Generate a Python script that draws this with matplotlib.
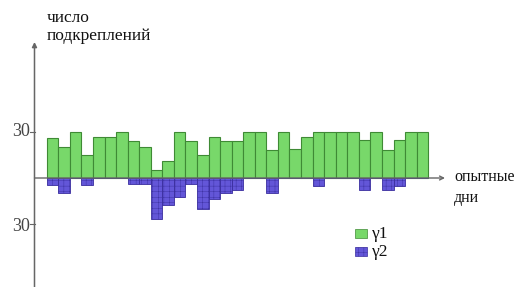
import numpy as np
import matplotlib
matplotlib.use("Agg")
import matplotlib.pyplot as plt

gamma1 = [26, 20, 30, 15, 27, 27, 30, 24, 20, 5.5, 11, 30, 24, 15, 27, 24,
          24, 30, 30, 18.5, 30, 19, 27, 30, 30, 30, 30, 24.5, 30, 18.5, 25, 30, 30]
gamma2 = [4.5, 9.5, 0, 4.5, 0, 0, 0, 4, 4, 27, 17.5, 12.5, 4, 20.5, 14, 10,
          8, 0, 0, 9.5, 0, 0, 0, 5, 0, 0, 0, 8, 0, 8, 5, 0, 0]
ytick_vals = [30, -30]
ytick_labels = ["30", "30"]
ylabel_lines = ["число", "подкреплений"]
xlabel_lines = ["опытные", "дни"]
legend_names = ["γ1", "γ2"]

green = "#78d86a"
green_edge = "#3f8a35"
purple = "#6356d8"
purple_edge = "#3a2e9e"
axis_col = "#666666"

plt.rcParams["font.family"] = ["Liberation Serif", "DejaVu Serif"]
plt.rcParams["hatch.linewidth"] = 0.3

fig = plt.figure(figsize=(5.18, 2.87), dpi=100)
ax = fig.add_axes([0, 0, 1, 1])

# pixel mapping: bars start at px 46.7, width 11.56 px; zero at px 178, 1 unit = 1.533 px
px0, bw = 46.7, 11.56
zero_px, upx = 178.0, 1.533
def X(p):
    return (p - px0) / bw
def Y(p):
    return (zero_px - p) / upx

ax.set_xlim(X(0), X(518))
ax.set_ylim(Y(287), Y(0))
ax.axis("off")

x = np.arange(len(gamma1))
ax.bar(x, gamma1, width=1.0, align="edge", color=green, edgecolor=green_edge,
       linewidth=0.8, zorder=2)
ax.bar(x, -np.array(gamma2), width=1.0, align="edge", color=purple,
       edgecolor=purple_edge, linewidth=0.6, hatch="+++", zorder=2)

# axes with arrows
ax.annotate("", xy=(X(34.5), Y(42)), xytext=(X(34.5), Y(287)),
            arrowprops=dict(arrowstyle="-|>", color=axis_col, lw=1.1,
                            mutation_scale=7, shrinkA=0, shrinkB=0), zorder=3)
ax.annotate("", xy=(X(445), 0), xytext=(X(34.5), 0),
            arrowprops=dict(arrowstyle="->", color=axis_col, lw=1.0,
                            mutation_scale=7, shrinkA=0, shrinkB=0), zorder=3)

# ticks and labels
for v, lab in zip(ytick_vals, ytick_labels):
    ax.plot([X(30), X(34.5)], [v, v], color=axis_col, lw=0.8)
    ax.text(X(30), v - (1.5 if v < 0 else -0.5), lab, ha="right", va="center",
            fontsize=13, color="#444444")

ax.text(X(47), Y(10), "\n".join(ylabel_lines), ha="left", va="top",
        fontsize=12.5, linespacing=1.2, color="#111111")
ax.text(X(454), Y(169), "\n".join(xlabel_lines), ha="left", va="top",
        fontsize=11.5, linespacing=1.4, color="#111111")

# legend
for i, (name, c, ec, h) in enumerate(zip(legend_names, [green, purple],
                                         [green_edge, purple_edge], [None, "+++"])):
    top = 229 + i * 18
    ax.bar(X(355), Y(top + 9) - Y(top), bottom=Y(top), width=12 / bw,
           align="edge", color=c, edgecolor=ec, linewidth=0.5, hatch=h)
    ax.text(X(372), Y(top + 5), name, ha="left", va="center", fontsize=12.5,
            color="#111111")

fig.savefig("out.png", dpi=100)
